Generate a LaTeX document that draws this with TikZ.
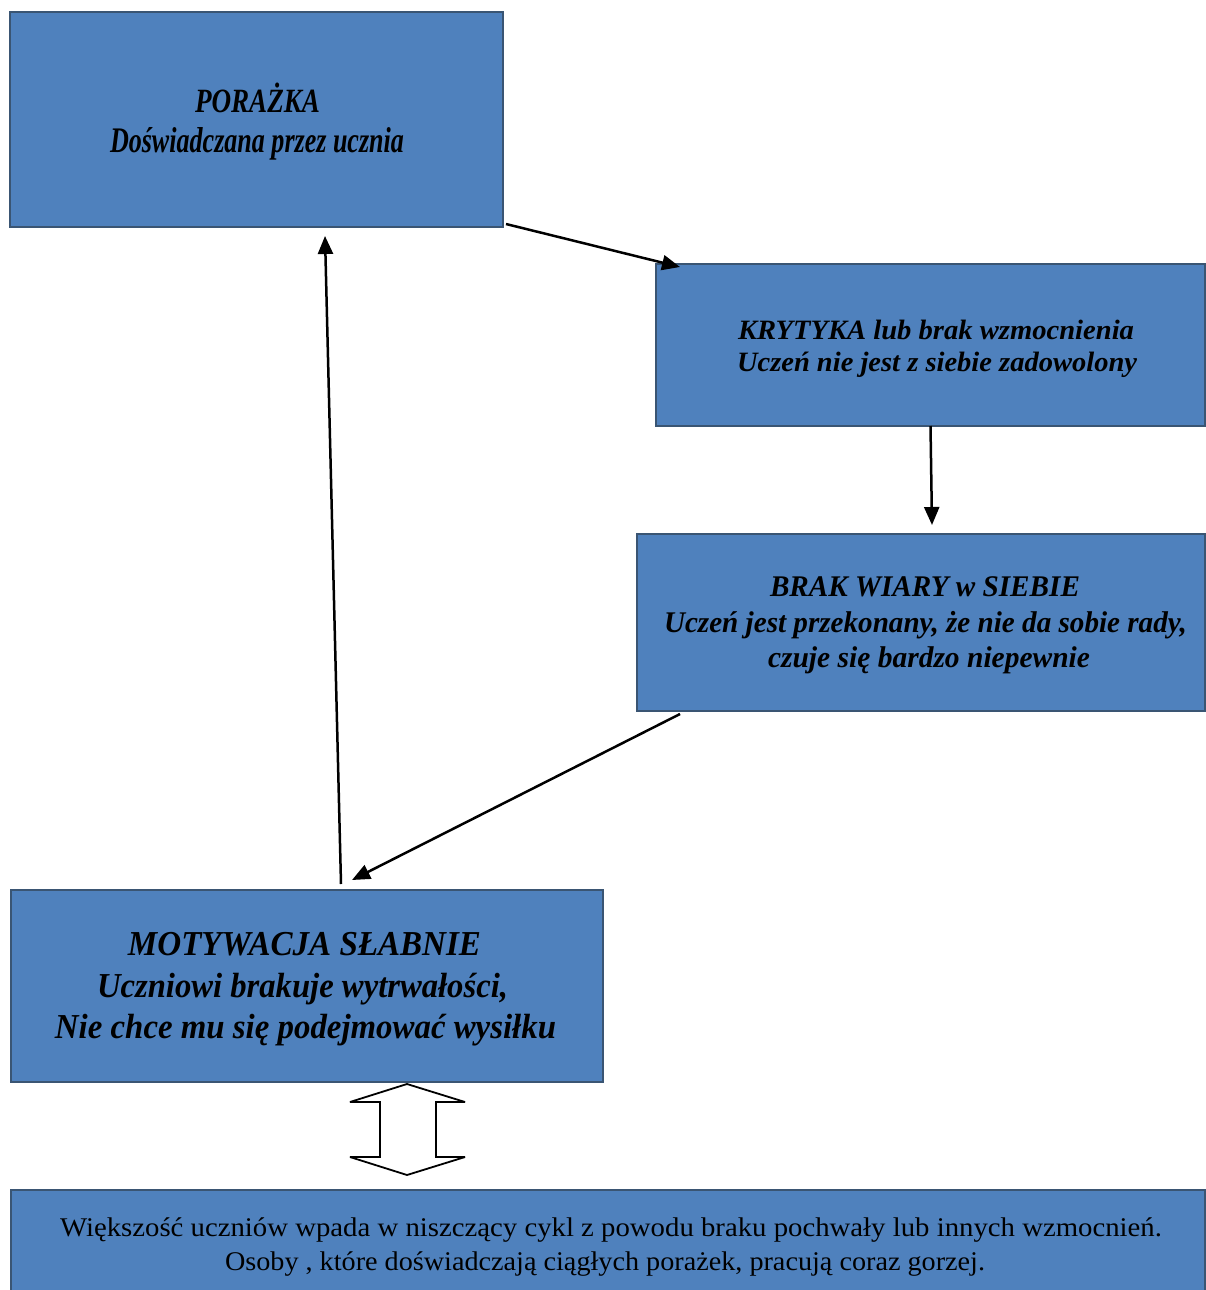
\documentclass[tikz,border=0pt]{standalone}
\usepackage{fontspec}
\usepackage{graphicx}
\setmainfont{Liberation Serif}
\usetikzlibrary{arrows.meta,calc}

\definecolor{boxfill}{HTML}{4F81BD}
\definecolor{boxline}{HTML}{3A5573}

% set a line of text squeezed (or widened) to an exact width
\newcommand\fitln[2]{\setbox0=\hbox{#2}%
  \pgfmathsetmacro\fitfactor{#1/\the\wd0}%
  \scalebox{\fitfactor}[1]{\box0}}

\tikzset{
  box/.style={draw=boxline, line width=1.5pt, fill=boxfill, rectangle, inner sep=0pt, outer sep=0pt},
  ttl/.style={anchor=base, inner sep=0pt, text=black},
  arr/.style={line width=2.5pt, -{Triangle[length=18pt,width=15pt]}},
  hollow/.style={draw=black, line width=1.8pt, fill=white, line join=miter, miter limit=3}
}

\begin{document}
\begin{tikzpicture}[x=1pt,y=-1pt]
\path[use as bounding box] (0,0) rectangle (1206,1290);

% boxes
\node[box, minimum width=493, minimum height=215] (b1) at (256.5,119.5) {};
\node[box, minimum width=549, minimum height=162] (b2) at (930.5,345) {};
\node[box, minimum width=568, minimum height=177] (b3) at (921,622.5) {};
\node[box, minimum width=592, minimum height=192] (b4) at (307,986) {};
\node[box, minimum width=1194, minimum height=112] (b5) at (608,1246) {};

% box texts
\node[ttl, font=\fontsize{34}{40}\selectfont\bfseries\itshape] (t1a) at (257.5,112) {\fitln{125}{PORAŻKA}};
\node[ttl, font=\fontsize{36}{40}\selectfont\bfseries\itshape] (t1b) at (257,152) {\fitln{294}{Doświadczana przez ucznia}};

\node[ttl, font=\fontsize{28}{32}\selectfont\bfseries\itshape] (t2a) at (936,339) {\fitln{396}{KRYTYKA lub brak wzmocnienia}};
\node[ttl, font=\fontsize{28}{32}\selectfont\bfseries\itshape] (t2b) at (937,371) {\fitln{400}{Uczeń nie jest z siebie zadowolony}};

\node[ttl, font=\fontsize{30}{35}\selectfont\bfseries\itshape] (t3a) at (925,596) {\fitln{310}{BRAK WIARY w SIEBIE}};
\node[ttl, font=\fontsize{30}{35}\selectfont\bfseries\itshape] (t3b) at (925.5,632) {\fitln{523}{Uczeń jest przekonany, że nie da sobie rady,}};
\node[ttl, font=\fontsize{30}{35}\selectfont\bfseries\itshape] (t3c) at (929,667) {\fitln{322}{czuje się bardzo niepewnie}};

\node[ttl, font=\fontsize{35}{42}\selectfont\bfseries\itshape] (t4a) at (304.5,955) {\fitln{353}{MOTYWACJA SŁABNIE}};
\node[ttl, font=\fontsize{35}{42}\selectfont\bfseries\itshape] (t4b) at (302.5,997) {\fitln{411}{Uczniowi brakuje wytrwałości,}};
\node[ttl, font=\fontsize{35}{42}\selectfont\bfseries\itshape] (t4c) at (305.5,1038) {\fitln{501}{Nie chce mu się podejmować wysiłku}};

\node[ttl, font=\fontsize{27}{34}\selectfont] (t5a) at (611,1236) {\fitln{1102}{Większość uczniów wpada w niszczący cykl z powodu braku pochwały lub innych wzmocnień.}};
\node[ttl, font=\fontsize{27}{34}\selectfont] (t5b) at (605,1270) {\fitln{760}{Osoby , które doświadczają ciągłych porażek, pracują coraz gorzej.}};

% connector end points
\coordinate (e1s) at ($(b1.south east)+(3,-3)$);
\coordinate (e1e) at ($(b2.north west)+(24,3)$);
\coordinate (e2e) at ($(b3.north)+(11,-9)$);
\coordinate (e3s) at ($(b3.south west)+(43,3)$);
\coordinate (e3e) at ($(b4.north west)+(341,-10)$);
\coordinate (e4s) at ($(b4.north west)+(330,-6)$);
\coordinate (e4e) at ($(b1.south west)+(315,9)$);

% cycle arrows
\draw[arr] (e1s) -- (e1e);
\draw[arr] (b2.south) -- (e2e);
\draw[arr] (e3s) -- (e3e);
\draw[arr] (e4s) -- (e4e);

% hollow double arrow between the last two boxes
\coordinate (da) at (407,1084);
\draw[hollow] (da) -- ++(58,18) -- ++(-29,0) -- ++(0,55) -- ++(29,0)
  -- ++(-58,18) -- ++(-57,-18) -- ++(30,0) -- ++(0,-55) -- ++(-30,0) -- cycle;
\end{tikzpicture}
\end{document}
